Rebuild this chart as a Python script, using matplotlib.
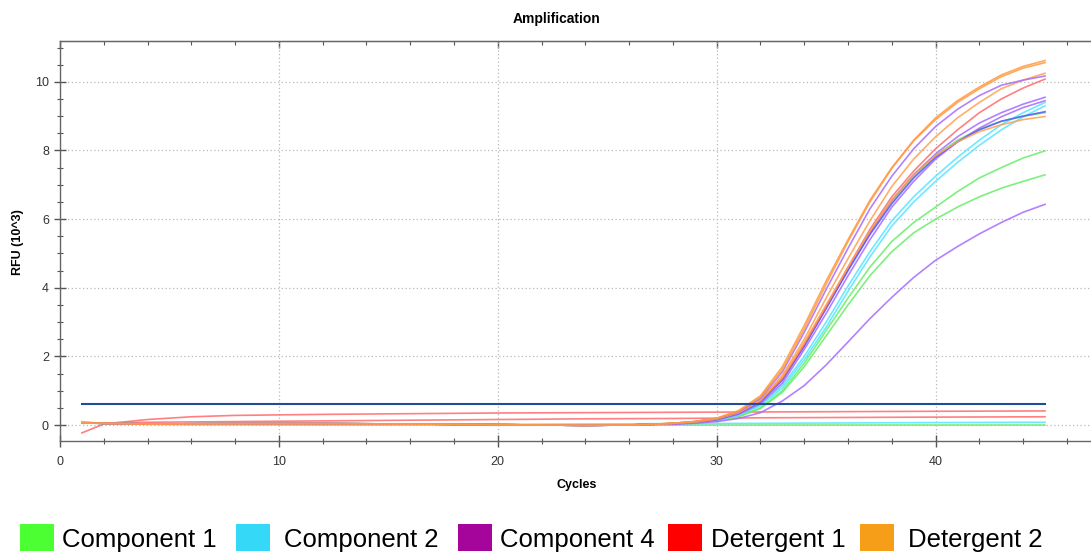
import matplotlib
matplotlib.use("Agg")
import matplotlib.pyplot as plt
from matplotlib.patches import Rectangle
from matplotlib.ticker import MultipleLocator

plt.rcParams['font.family'] = ['Liberation Sans', 'DejaVu Sans']

# ---------------- data ----------------
TITLE = "Amplification"
XLABEL = "Cycles"
YLABEL = "RFU (10^3)"

CYCLES_BASE = [1, 4, 8, 12, 16, 20, 24, 26, 27]
BASELINE = [0.06, 0.03, 0.04, 0.04, 0.03, 0.01, -0.01, 0.0, 0.02]
CYCLES_AMP = list(range(28, 46))

# amplification curves (values for cycles 28..45, RFU x10^3)
O1 = [0.05, 0.10, 0.20, 0.42, 0.85, 1.70, 2.90, 4.20, 5.40, 6.55, 7.50, 8.30, 8.95, 9.45, 9.85, 10.20, 10.45, 10.62]
O2 = [0.05, 0.10, 0.19, 0.40, 0.82, 1.62, 2.80, 4.10, 5.35, 6.50, 7.48, 8.28, 8.90, 9.40, 9.80, 10.15, 10.40, 10.56]
O3 = [0.04, 0.08, 0.17, 0.36, 0.72, 1.45, 2.50, 3.70, 4.85, 5.95, 6.95, 7.75, 8.40, 8.95, 9.40, 9.80, 10.05, 10.25]
O4 = [0.05, 0.10, 0.19, 0.37, 0.74, 1.40, 2.40, 3.50, 4.60, 5.65, 6.55, 7.30, 7.85, 8.25, 8.55, 8.75, 8.90, 8.99]
P1 = [0.04, 0.09, 0.18, 0.38, 0.78, 1.55, 2.70, 3.95, 5.15, 6.30, 7.25, 8.05, 8.70, 9.20, 9.60, 9.90, 10.05, 10.17]
P2 = [0.04, 0.08, 0.16, 0.33, 0.66, 1.30, 2.30, 3.40, 4.55, 5.60, 6.55, 7.30, 7.90, 8.40, 8.80, 9.10, 9.35, 9.55]
P3 = [0.03, 0.07, 0.15, 0.31, 0.62, 1.22, 2.20, 3.25, 4.35, 5.40, 6.35, 7.10, 7.75, 8.25, 8.65, 8.98, 9.25, 9.45]
P4 = [0.02, 0.05, 0.10, 0.19, 0.36, 0.70, 1.15, 1.75, 2.42, 3.10, 3.72, 4.30, 4.80, 5.20, 5.57, 5.90, 6.20, 6.43]
B1 = [0.04, 0.08, 0.16, 0.34, 0.68, 1.32, 2.30, 3.40, 4.50, 5.55, 6.45, 7.20, 7.80, 8.25, 8.60, 8.85, 9.00, 9.13]
R1 = [0.05, 0.10, 0.18, 0.36, 0.70, 1.35, 2.35, 3.45, 4.60, 5.70, 6.65, 7.40, 8.05, 8.60, 9.10, 9.50, 9.82, 10.08]
C1 = [0.04, 0.08, 0.15, 0.30, 0.60, 1.15, 2.00, 3.00, 4.05, 5.05, 5.95, 6.65, 7.25, 7.80, 8.30, 8.75, 9.10, 9.40]
C2 = [0.04, 0.07, 0.14, 0.28, 0.56, 1.08, 1.90, 2.85, 3.90, 4.90, 5.80, 6.50, 7.10, 7.65, 8.15, 8.60, 8.98, 9.30]
G1 = [0.05, 0.09, 0.18, 0.35, 0.70, 1.35, 2.35, 3.45, 4.55, 5.60, 6.50, 7.25, 7.85, 8.30, 8.62, 8.85, 9.00, 9.10]
G2 = [0.04, 0.07, 0.13, 0.25, 0.50, 1.00, 1.80, 2.75, 3.70, 4.60, 5.35, 5.90, 6.35, 6.80, 7.20, 7.50, 7.78, 7.99]
G3 = [0.04, 0.07, 0.12, 0.24, 0.48, 0.95, 1.70, 2.60, 3.50, 4.35, 5.05, 5.60, 6.00, 6.35, 6.65, 6.90, 7.10, 7.29]

# non-amplifying curves
CYCLES_FLAT = [1, 2, 4, 6, 8, 12, 16, 20, 24, 28, 32, 36, 40, 45]
R_FLAT_HI = [-0.23, 0.03, 0.16, 0.24, 0.28, 0.31, 0.33, 0.35, 0.36, 0.37, 0.38, 0.39, 0.40, 0.41]
R_FLAT_LO = [0.05, 0.06, 0.08, 0.09, 0.10, 0.12, 0.14, 0.16, 0.18, 0.19, 0.21, 0.22, 0.23, 0.24]
C_FLAT = [0.08, 0.05, 0.03, 0.02, 0.02, 0.02, 0.02, 0.02, 0.03, 0.04, 0.05, 0.06, 0.07, 0.08]
G_FLAT = [0.10, 0.04, 0.02, 0.01, 0.01, 0.0, 0.0, 0.0, 0.0, 0.0, 0.0, 0.0, 0.0, 0.0]

THRESHOLD = 0.6
THRESHOLD_SPAN = [1, 45]

LEGEND_LABELS = ["Component 1", "Component 2", "Component 4", "Detergent 1", "Detergent 2"]
LEGEND_COLORS = ["#4cff33", "#36d8f8", "#a5059b", "#ff0000", "#f79e18"]

# ---------------- styles ----------------
LINE_GREEN = "#66ee66"
LINE_CYAN = "#55e4ff"
LINE_PURPLE = "#a66bff"
LINE_BLUE = "#5555ff"
LINE_RED = "#ff6a6a"
LINE_ORANGE = "#ffa050"

amp_curves = [
    (G1, LINE_GREEN), (G2, LINE_GREEN), (G3, LINE_GREEN),
    (C1, LINE_CYAN), (C2, LINE_CYAN),
    (P2, LINE_PURPLE), (P3, LINE_PURPLE), (P4, LINE_PURPLE), (B1, LINE_BLUE),
    (R1, LINE_RED),
    (O3, LINE_ORANGE), (O4, LINE_ORANGE), (P1, LINE_PURPLE), (O2, "#ff9a40"), (O1, "#ff9a40"),
]
flat_curves = [
    (G_FLAT, LINE_GREEN), (C_FLAT, LINE_CYAN),
    (R_FLAT_LO, LINE_RED), (R_FLAT_HI, LINE_RED),
]

W, H = 1091, 554
fig = plt.figure(figsize=(W / 100, H / 100), dpi=100)
ax = fig.add_axes([60 / W, 1 - 441 / H, (W - 60) / W, 400 / H])

for vals, col in flat_curves:
    ax.plot(CYCLES_FLAT, vals, color=col, lw=1.2, alpha=0.85, zorder=3)

for vals, col in amp_curves:
    ax.plot(CYCLES_BASE + CYCLES_AMP, BASELINE + vals, color=col, lw=1.2, alpha=0.85, zorder=3)

ax.plot(THRESHOLD_SPAN, [THRESHOLD, THRESHOLD], color="#1f4e96", lw=1.5, zorder=4)

ax.set_xlim(0, 47.1)
ax.set_ylim(-0.466, 11.19)
ax.xaxis.set_major_locator(MultipleLocator(10))
ax.xaxis.set_minor_locator(MultipleLocator(2))
ax.yaxis.set_major_locator(MultipleLocator(2))
ax.yaxis.set_minor_locator(MultipleLocator(0.5))
ax.grid(True, which="major", linestyle=(0, (1, 2)), color="#b8b8b8", lw=0.9)
ax.tick_params(which="major", direction="inout", length=9, width=1, color="#555555",
               labelsize=9, labelcolor="#333333")
ax.tick_params(which="minor", direction="inout", length=5, width=0.8, color="#555555")
ax.tick_params(axis="x", pad=6)
for side in ["left", "bottom", "top"]:
    ax.spines[side].set_color("#666666")
    ax.spines[side].set_linewidth(1.0)
ax.spines["right"].set_visible(False)

# inward ticks along the top border
sec = ax.secondary_xaxis("top")
sec.xaxis.set_major_locator(MultipleLocator(10))
sec.xaxis.set_minor_locator(MultipleLocator(2))
sec.tick_params(which="major", direction="in", length=5, width=1, color="#555555", labeltop=False)
sec.tick_params(which="minor", direction="in", length=3, width=0.8, color="#555555")
sec.spines["top"].set_color("#666666")

fig.text(557 / W, 1 - 19 / H, TITLE, ha="center", va="center", fontsize=10, fontweight="bold")
fig.text(577 / W, 1 - 485 / H, XLABEL, ha="center", va="center", fontsize=9, fontweight="bold")
fig.text(18 / W, 1 - 242 / H, YLABEL, ha="center", va="center", rotation=90, fontsize=9, fontweight="bold")

# legend
sq_x = [20, 236, 458, 668, 860]
txt_x = [62, 284, 500, 711, 908]
for sx, tx, lab, col in zip(sq_x, txt_x, LEGEND_LABELS, LEGEND_COLORS):
    fig.add_artist(Rectangle((sx / W, 1 - 551 / H), 34 / W, 27 / H, transform=fig.transFigure,
                             facecolor=col, edgecolor="none"))
    fig.text(tx / W, 1 - 540 / H, lab, ha="left", va="center", fontsize=18.5, color="black")

fig.savefig("out.png", dpi=100)
